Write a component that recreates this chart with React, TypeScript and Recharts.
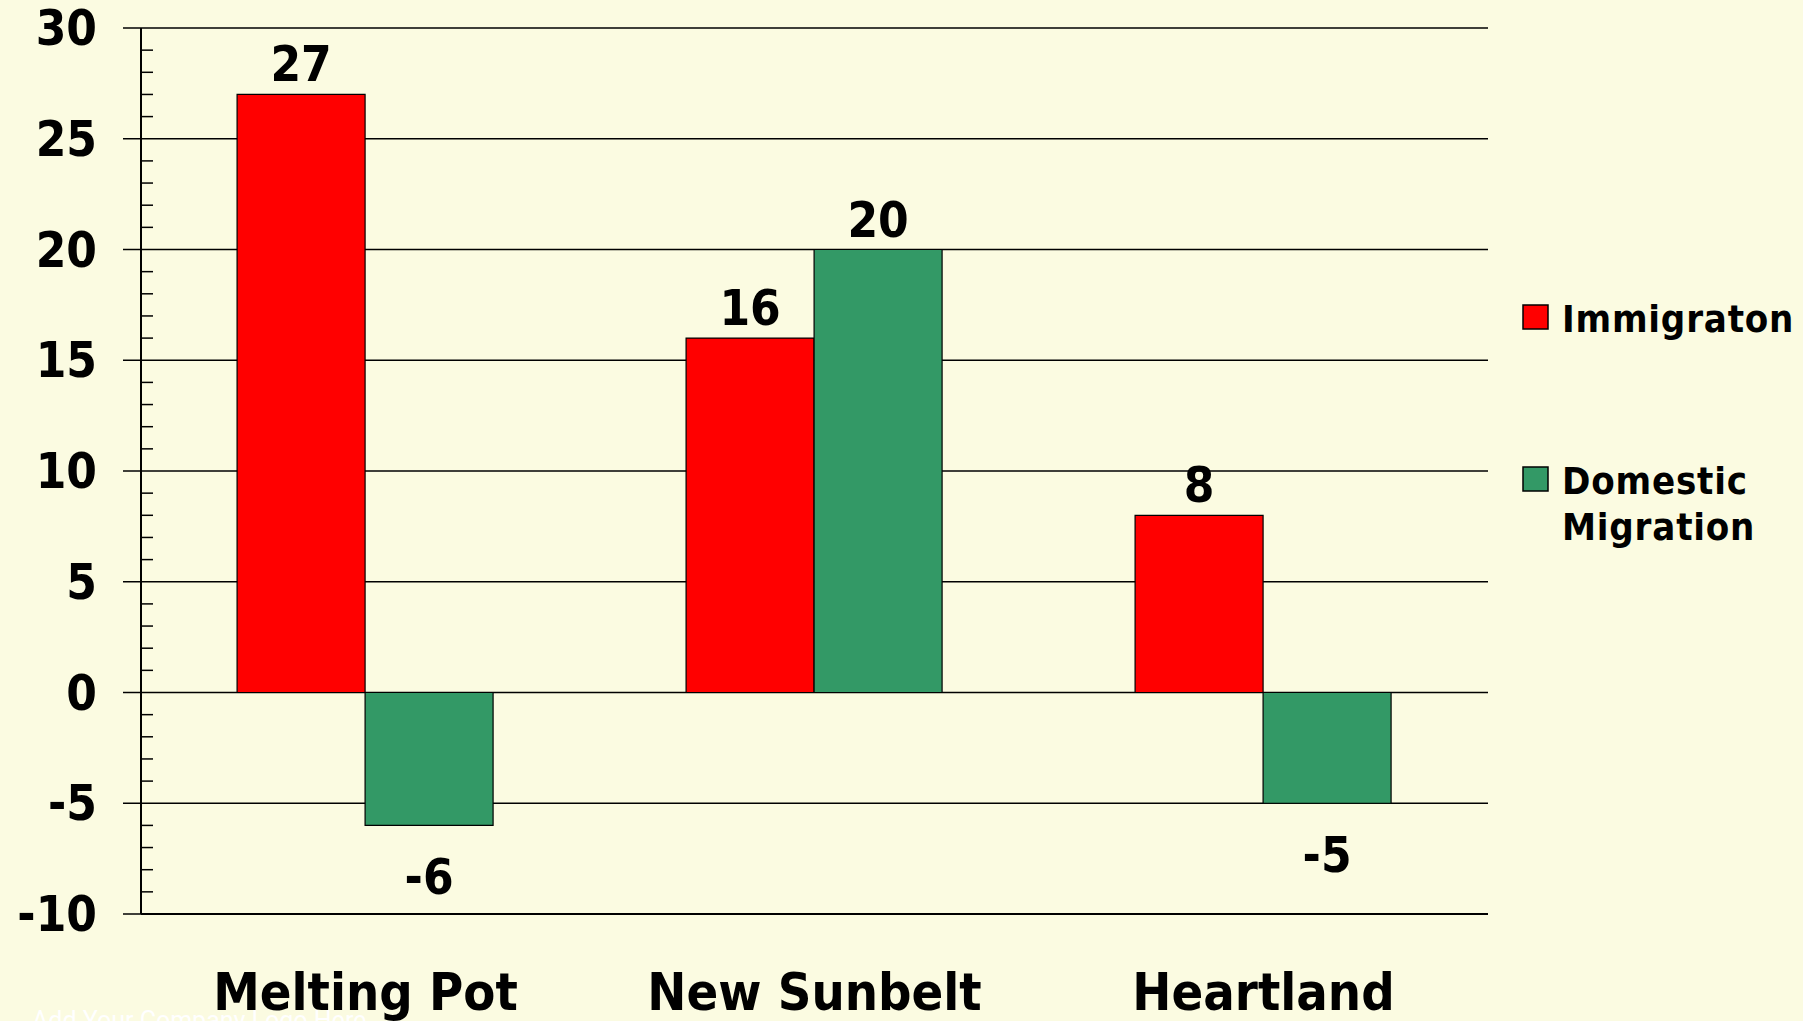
import React from 'react';
import { BarChart, Bar, XAxis, YAxis, CartesianGrid, Legend, LabelList } from 'recharts';

const categories = ['Melting Pot', 'New Sunbelt', 'Heartland'];
const immigration = [27, 16, 8];
const domestic = [-6, 20, -5];
const majorTicks = [-10, -5, 0, 5, 10, 15, 20, 25, 30];
// every whole unit gets a small tick, labelled ones every 5
const allTicks = Array.from({ length: 41 }, (_, i) => i - 10);

const seriesOrder = ['immigration', 'domestic'];
const seriesNames = { immigration: 'Immigraton', domestic: 'Domestic Migration' };

const FONT = '"DejaVu Sans Condensed", "DejaVu Sans", sans-serif';
const BG = '#FBFBE1';

const chartData = categories.map((name, i) => ({
  name,
  immigration: immigration[i],
  domestic: domestic[i],
}));

const YTick = (props: any) => {
  const { x, y, payload } = props;
  const v = payload.value;
  if (!majorTicks.includes(v)) {
    return <line x1={x} x2={x + 12} y1={y} y2={y} stroke="#000" strokeWidth={1.5} />;
  }
  return (
    <g>
      <line x1={x - 18} x2={x} y1={y} y2={y} stroke="#000" strokeWidth={1.5} />
      <text x={x - 44} y={y + 17} textAnchor="end" fontFamily={FONT} fontWeight="bold" fontSize={49} fill="#000">
        {v}
      </text>
    </g>
  );
};

const CategoryTick = (props: any) => {
  const { x, y, payload } = props;
  return (
    <text x={x} y={y + 96} textAnchor="middle" fontFamily={FONT} fontWeight="bold" fontSize={52} fill="#000">
      {payload.value}
    </text>
  );
};

const ValueLabel = (props: any) => {
  const { x, y, width, height, value } = props;
  const top = Math.min(y, y + height);
  const bottom = Math.max(y, y + height);
  const ty = value < 0 ? bottom + 69 : top - 13;
  return (
    <text x={x + width / 2} y={ty} textAnchor="middle" fontFamily={FONT} fontWeight="bold" fontSize={49} fill="#000">
      {value}
    </text>
  );
};

const LegendContent = (props: any) => {
  const items = [...(props.payload || [])].sort(
    (a: any, b: any) => seriesOrder.indexOf(a.dataKey) - seriesOrder.indexOf(b.dataKey)
  );
  const rows = [5, 167];
  return (
    <svg width={281} height={260} style={{ display: 'block', overflow: 'visible' }}>
      {items.map((item: any, i: number) => {
        const top = rows[i] ?? 5 + i * 160;
        const lines = String(item.value).split(' ');
        return (
          <g key={item.value}>
            <rect x={1} y={top} width={25} height={24} fill={item.color} stroke="#000" strokeWidth={1.5} />
            {lines.map((ln, j) => (
              <text key={ln} x={40} y={top + 27 + j * 46} fontFamily={FONT} fontWeight="bold" fontSize={38} letterSpacing={0.8} fill="#000">
                {ln}
              </text>
            ))}
          </g>
        );
      })}
    </svg>
  );
};

export default function App() {
  return (
    <div style={{ position: 'absolute', left: 0, top: 0, width: 1803, height: 1021, background: BG, overflow: 'hidden' }}>
      <BarChart
        width={1803}
        height={1021}
        data={chartData}
        margin={{ top: 28, right: 315, bottom: 0, left: 0 }}
        barCategoryGap="21.4%"
        barGap={0}
      >
        <CartesianGrid vertical={false} horizontalValues={majorTicks} stroke="#000" strokeWidth={1.3} />
        <XAxis
          dataKey="name"
          height={107}
          axisLine={{ stroke: '#000', strokeWidth: 2 }}
          tickLine={false}
          tickSize={0}
          tickMargin={0}
          tick={<CategoryTick />}
          interval={0}
        />
        <XAxis
          xAxisId="top"
          dataKey="name"
          orientation="top"
          height={0}
          axisLine={{ stroke: '#000', strokeWidth: 3 }}
          tick={false}
          tickLine={false}
        />
        <YAxis
          type="number"
          domain={[-10, 30]}
          ticks={allTicks}
          width={141}
          axisLine={{ stroke: '#000', strokeWidth: 2 }}
          tickLine={false}
          tickSize={0}
          tickMargin={0}
          tick={<YTick />}
          interval={0}
        />
        <YAxis
          yAxisId="right"
          orientation="right"
          type="number"
          domain={[-10, 30]}
          width={0}
          axisLine={{ stroke: '#7a7a7a', strokeWidth: 2 }}
          tick={false}
          tickLine={false}
        />
        <Legend
          content={<LegendContent />}
          wrapperStyle={{ left: 1522, top: 300, width: 0, height: 0, overflow: 'visible' }}
        />
        <Bar dataKey="immigration" name={seriesNames.immigration} fill="#FF0000" stroke="#000" strokeWidth={1.2} isAnimationActive={false}>
          <LabelList dataKey="immigration" content={<ValueLabel />} />
        </Bar>
        <Bar dataKey="domestic" name={seriesNames.domestic} fill="#339966" stroke="#000" strokeWidth={1.2} isAnimationActive={false}>
          <LabelList dataKey="domestic" content={<ValueLabel />} />
        </Bar>
      </BarChart>
      <div
        style={{
          position: 'absolute',
          left: 32,
          top: 1006,
          fontFamily: 'Roboto, sans-serif',
          fontSize: 25,
          color: '#ffffff',
          whiteSpace: 'nowrap',
        }}
      >
        Add Your Company Logo Here
      </div>
    </div>
  );
}
